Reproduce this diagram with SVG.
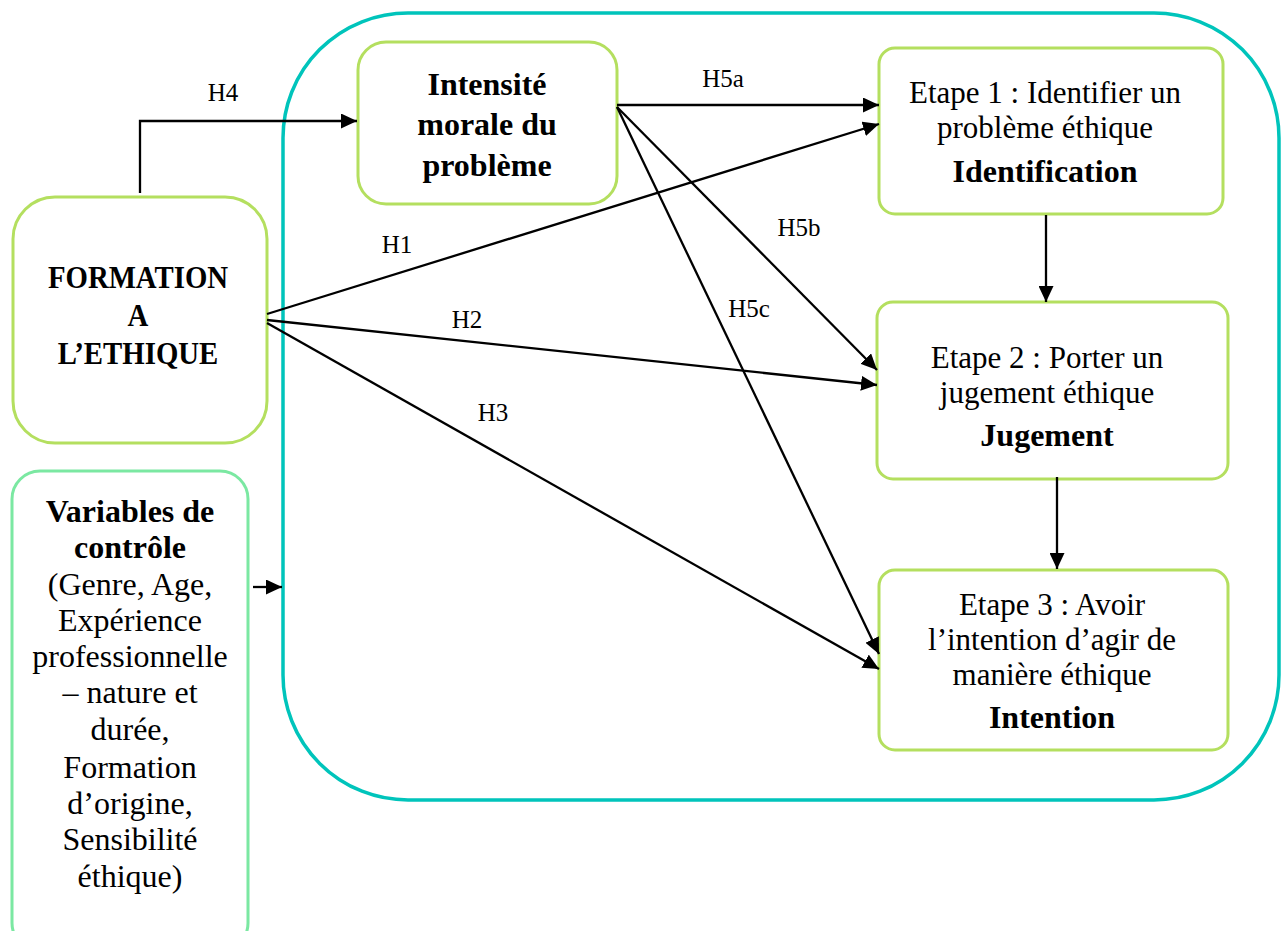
<svg xmlns="http://www.w3.org/2000/svg" width="1282" height="931" viewBox="0 0 1282 931">
<style>
.box{fill:#ffffff;stroke:#b4df5f;stroke-width:3}
.ctrl{fill:#ffffff;stroke:#7be8a2;stroke-width:3}
.outer{fill:none;stroke:#00c4bb;stroke-width:3.5}
.t{font-family:"Liberation Serif","Times New Roman",serif;font-size:32px;fill:#000;text-anchor:middle}
.s{font-size:31px}
.b{font-weight:bold}
.lbl{font-family:"Liberation Serif","Times New Roman",serif;font-size:25px;fill:#000;text-anchor:middle}
.c{stroke:#000;stroke-width:2.3;fill:none;marker-end:url(#ah)}
</style>
<defs>
<marker id="ah" markerUnits="userSpaceOnUse" markerWidth="16" markerHeight="15" refX="16" refY="7.5" orient="auto">
<path d="M0,0 L16,7.5 L0,15 z" fill="#000"/>
</marker>
</defs>
<rect width="1282" height="931" fill="#ffffff"/>
<g id="outer-frame">
<rect class="outer" x="283" y="13" width="996" height="787" rx="125" ry="125"/>
</g>
<g id="formation">
<rect class="box" x="13" y="197" width="254" height="246" rx="42" ry="42"/>
<g transform="translate(138,0) scale(0.9,1)">
<text class="t b" x="0" y="288">FORMATION</text>
<text class="t b" x="0" y="326">A</text>
<text class="t b" x="0" y="364">L’ETHIQUE</text>
</g>
</g>
<g id="controle">
<rect class="ctrl" x="12" y="471" width="236" height="480" rx="28" ry="28"/>
<text class="t b" x="130" y="522">Variables de</text>
<text class="t b" x="130" y="558">contrôle</text>
<text class="t" x="130" y="595">(Genre, Age,</text>
<text class="t" x="130" y="631">Expérience</text>
<text class="t" x="130" y="667">professionnelle</text>
<text class="t" x="130" y="703">– nature et</text>
<text class="t" x="130" y="740">durée,</text>
<text class="t" x="130" y="778">Formation</text>
<text class="t" x="130" y="814">d’origine,</text>
<text class="t" x="130" y="850">Sensibilité</text>
<text class="t" x="130" y="887">éthique)</text>
</g>
<g id="intensite">
<rect class="box" x="358" y="42" width="259" height="162" rx="28" ry="28"/>
<text class="t b" x="487" y="95">Intensité</text>
<text class="t b" x="487" y="135">morale du</text>
<text class="t b" x="487" y="176">problème</text>
</g>
<g id="etape1">
<rect class="box" x="879" y="48" width="344" height="166" rx="16" ry="16"/>
<text class="t s" x="1045" y="103">Etape 1 : Identifier un</text>
<text class="t s" x="1045" y="138">problème éthique</text>
<text class="t b" x="1045" y="182">Identification</text>
</g>
<g id="etape2">
<rect class="box" x="877" y="302" width="351" height="177" rx="16" ry="16"/>
<text class="t s" x="1047" y="368">Etape 2 : Porter un</text>
<text class="t s" x="1047" y="403">jugement éthique</text>
<text class="t b" x="1047" y="446">Jugement</text>
</g>
<g id="etape3">
<rect class="box" x="879" y="570" width="349" height="180" rx="16" ry="16"/>
<text class="t s" x="1052" y="615">Etape 3 : Avoir</text>
<text class="t s" x="1052" y="650">l’intention d’agir de</text>
<text class="t s" x="1052" y="685">manière éthique</text>
<text class="t b" x="1052" y="728">Intention</text>
</g>
<g id="connectors">
<path class="c" d="M140,193 L140,121 L357,121"/>
<line class="c" x1="617" y1="105" x2="879" y2="105"/>
<line class="c" x1="267" y1="314" x2="879" y2="124"/>
<line class="c" x1="267" y1="320" x2="877" y2="385"/>
<line class="c" x1="267" y1="323" x2="879" y2="669"/>
<line class="c" x1="617" y1="107" x2="877" y2="370"/>
<line class="c" x1="617" y1="107" x2="879" y2="654"/>
<line class="c" x1="1046" y1="215" x2="1046" y2="302"/>
<line class="c" x1="1057" y1="477" x2="1057" y2="569"/>
<line class="c" x1="253" y1="587" x2="282" y2="587"/>
<text class="lbl" x="223" y="101">H4</text>
<text class="lbl" x="723" y="87">H5a</text>
<text class="lbl" x="397" y="253">H1</text>
<text class="lbl" x="467" y="328">H2</text>
<text class="lbl" x="493" y="421">H3</text>
<text class="lbl" x="799" y="236">H5b</text>
<text class="lbl" x="749" y="317">H5c</text>
</g>
</svg>
